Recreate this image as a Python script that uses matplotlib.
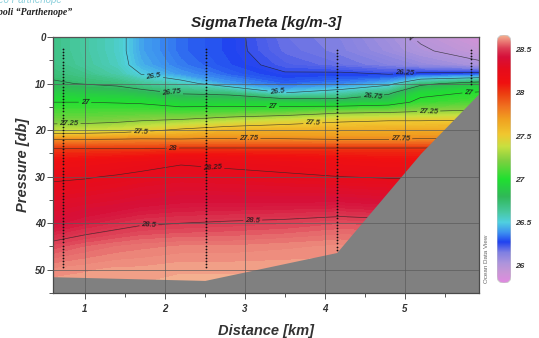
import numpy as np
import matplotlib
matplotlib.use('Agg')
import matplotlib.pyplot as plt
from matplotlib.colors import LinearSegmentedColormap
from matplotlib.patches import FancyBboxPatch
from matplotlib.ticker import MultipleLocator

plt.rcParams['font.family'] = ['Liberation Sans', 'DejaVu Sans']

# section grid: distance along the transect (km) and pressure (db)
distance = [0.6, 1.0, 1.4, 1.7, 2.2, 2.8, 3.5, 4.2, 4.8, 5.2, 5.95]
pressure = [0, 3, 6, 8, 10, 12, 14, 16, 18, 20, 22, 24, 27, 30, 35, 40, 45,
            50, 55]

# sigma-theta profiles (kg/m-3), one per distance node, surface to bottom
sigma = [
    [26.68, 26.68, 26.69, 26.72, 26.77, 26.90, 27.00, 27.10, 27.20, 27.35,
     27.75, 28.00, 28.14, 28.23, 28.32, 28.40, 28.53, 28.62, 28.66],
    [26.62, 26.62, 26.63, 26.67, 26.74, 26.88, 27.00, 27.10, 27.20, 27.37,
     27.75, 28.00, 28.16, 28.24, 28.34, 28.44, 28.56, 28.63, 28.66],
    [26.55, 26.55, 26.56, 26.60, 26.71, 26.86, 26.99, 27.10, 27.22, 27.40,
     27.76, 28.00, 28.18, 28.26, 28.36, 28.47, 28.58, 28.64, 28.66],
    [26.42, 26.42, 26.44, 26.50, 26.64, 26.82, 26.98, 27.10, 27.25, 27.45,
     27.77, 28.00, 28.20, 28.28, 28.38, 28.49, 28.59, 28.64, 28.66],
    [26.33, 26.33, 26.35, 26.40, 26.56, 26.73, 26.92, 27.08, 27.28, 27.53,
     27.76, 28.02, 28.24, 28.30, 28.40, 28.50, 28.60, 28.65, 28.66],
    [26.28, 26.28, 26.29, 26.32, 26.40, 26.70, 26.92, 27.10, 27.35, 27.60,
     27.77, 28.02, 28.22, 28.29, 28.40, 28.51, 28.60, 28.65, 28.66],
    [26.18, 26.19, 26.22, 26.26, 26.32, 26.50, 26.90, 27.12, 27.42, 27.62,
     27.76, 28.02, 28.20, 28.27, 28.40, 28.52, 28.61, 28.65, 28.66],
    [26.14, 26.15, 26.18, 26.27, 26.36, 26.58, 26.85, 27.20, 27.48, 27.63,
     27.75, 28.02, 28.17, 28.25, 28.40, 28.54, 28.62, 28.65, 28.66],
    [26.06, 26.08, 26.14, 26.25, 26.45, 26.72, 26.90, 27.22, 27.50, 27.64,
     27.75, 28.02, 28.15, 28.24, 28.38, 28.53, 28.62, 28.65, 28.66],
    [25.98, 26.02, 26.10, 26.28, 26.70, 26.95, 27.05, 27.25, 27.50, 27.65,
     27.76, 28.02, 28.15, 28.24, 28.38, 28.53, 28.62, 28.65, 28.66],
    [25.87, 25.93, 26.03, 26.30, 26.85, 27.02, 27.10, 27.28, 27.52, 27.65,
     27.76, 28.03, 28.15, 28.24, 28.38, 28.53, 28.62, 28.65, 28.66],
]

# sea floor along the section
bottom_x = [0.6, 2.5, 4.15, 5.2, 5.95]
bottom_p = [51.5, 52.3, 46.3, 25.0, 11.8]

# CTD casts: position, first and last sample depth
station_x = [0.72, 2.52, 4.15, 5.83]
station_top = [2.6, 2.6, 2.8, 2.8]
station_bottom = [50.0, 50.0, 45.7, 10.8]
sample_step = 0.67

contour_levels = [26.0, 26.25, 26.5, 26.75, 27.0, 27.25, 27.5, 27.75, 28.0,
                  28.25, 28.5]
cbar_ticks = [26, 26.5, 27, 27.5, 28, 28.5]
vmin, vmax = 25.80, 28.67

# ODV-like palette
cmap_stops = [
    (25.80, '#e08ae0'), (25.92, '#c896d6'), (26.03, '#ac94dc'),
    (26.15, '#8080e2'), (26.27, '#2042f0'), (26.38, '#3c90f0'),
    (26.50, '#50d0e0'), (26.62, '#48c8a0'), (26.80, '#30b858'),
    (27.00, '#20e030'), (27.22, '#80d040'), (27.38, '#c8e040'),
    (27.52, '#f0c830'), (27.70, '#f0a020'), (27.85, '#f07020'),
    (28.00, '#ec3c10'), (28.12, '#f01010'), (28.28, '#e60c1c'),
    (28.42, '#d6103a'), (28.52, '#dc3c54'), (28.60, '#ea7a74'),
    (28.67, '#f4b090'),
]
cmap = LinearSegmentedColormap.from_list(
    'odv', [((v - vmin) / (vmax - vmin), c) for v, c in cmap_stops])

# where the contour labels sit (km, db)
label_pos = [
    (4.98, 1.5), (5.0, 8.3), (1.85, 9.6), (3.4, 12.0), (2.08, 12.3),
    (4.6, 13.3), (1.0, 14.0), (3.35, 14.6), (5.8, 11.9), (0.8, 18.9),
    (5.3, 16.0), (1.7, 20.6), (3.85, 18.6), (3.05, 22.4), (4.95, 22.4),
    (2.1, 23.8), (2.6, 27.7), (1.8, 40.6), (3.1, 39.8),
]

W, H = 539, 338
fig = plt.figure(figsize=(W / 100, H / 100), dpi=100)
ax = fig.add_axes([53 / W, 1 - 293 / H, 426 / W, 256 / H])

Z = np.array(sigma).T
ax.contourf(distance, pressure, Z, levels=np.linspace(vmin, vmax, 160),
            cmap=cmap, vmin=vmin, vmax=vmax, antialiased=False, zorder=1)
cs = ax.contour(distance, pressure, Z, levels=contour_levels,
                colors='#262626', linewidths=0.45, alpha=0.8, zorder=1.5)
labels = ax.clabel(cs, manual=label_pos, fmt=lambda v: f'{v:g}',
                   fontsize=5.5, colors='#1a1a1a', inline=True,
                   inline_spacing=2)
for t in labels:
    t.set_fontstyle('italic')
    t.set_fontweight('bold')

ax.fill_between(bottom_x, bottom_p, 60, color='#808080', lw=0, zorder=2)

for sx, top, bot in zip(station_x, station_top, station_bottom):
    depths = np.arange(top, bot + 0.01, sample_step)
    ax.plot(np.full_like(depths, sx), depths, ls='none', marker='o',
            ms=1.3, mfc='#111111', mec='none', zorder=3)

ax.set_xlim(0.6, 5.93)
ax.set_ylim(55, 0)
ax.xaxis.set_major_locator(MultipleLocator(1))
ax.xaxis.set_minor_locator(MultipleLocator(0.5))
ax.yaxis.set_major_locator(MultipleLocator(10))
ax.yaxis.set_minor_locator(MultipleLocator(5))
ax.set_axisbelow(False)
ax.grid(True, which='major', color='#5a5a5a', lw=0.6, alpha=0.8)

tick_font = dict(fontsize=7, fontweight='bold', fontstyle='italic',
                 color='#333333')
ax.tick_params(which='both', direction='out', color='#555555', width=0.7)
ax.tick_params(which='major', length=4)
ax.tick_params(which='minor', length=3)
ax.tick_params(axis='x', pad=4)
ax.tick_params(axis='y', pad=1)
for lab in ax.get_xticklabels() + ax.get_yticklabels():
    lab.set(**tick_font)
for sp in ax.spines.values():
    sp.set_color('#4a4a4a')
    sp.set_linewidth(0.9)

label_font = dict(fontsize=10.5, fontweight='bold', fontstyle='italic',
                  color='#333333')
ax.set_xlabel('Distance [km]', **label_font)
ax.set_ylabel('Pressure [db]', **label_font)
ax.xaxis.set_label_coords(0.5, -0.12)
ax.yaxis.set_label_coords(-0.055, 0.5)
ax.set_title('SigmaTheta [kg/m-3]', fontsize=11, fontweight='bold',
             fontstyle='italic', color='#222222', pad=7)

# colour bar with rounded ends
cax = fig.add_axes([497 / W, 1 - 283 / H, 14 / W, 248 / H])
grad = np.linspace(vmin, vmax, 256).reshape(-1, 1)
im = cax.imshow(grad, cmap=cmap, vmin=vmin, vmax=vmax, origin='lower',
                extent=[0, 1, vmin, vmax], aspect='auto')
px_per_unit = 248 / (vmax - vmin)
box = FancyBboxPatch((0, vmin), 1, vmax - vmin,
                     boxstyle='round,pad=0,rounding_size=0.5',
                     mutation_aspect=14 / px_per_unit,
                     transform=cax.transData, fc='none', ec='#c8c8c8',
                     lw=0.6)
cax.add_patch(box)
im.set_clip_path(box)
cax.set_xlim(0, 1)
cax.set_ylim(vmin, vmax)
cax.set_xticks([])
cax.yaxis.tick_right()
cax.set_yticks(cbar_ticks)
cax.set_yticklabels([f'{v:g}' for v in cbar_ticks], fontsize=6,
                    fontweight='bold', fontstyle='italic', color='#333333')
cax.tick_params(axis='y', length=0, pad=3)
for sp in cax.spines.values():
    sp.set_visible(False)

fig.text(487 / W, 1 - 259 / H, 'Ocean Data View', rotation=90,
         fontsize=4.5, color='#666666', ha='center', va='center')
fig.text(72 / W, 1 - 12 / H, 'Università degli Studi di Napoli “Parthenope”',
         ha='right', va='center', family=['Liberation Serif'],
         fontstyle='italic', fontweight='bold', fontsize=7, color='#222222')
fig.text(62 / W, 1 - 0 / H, 'Centro Meteo Parthenope', ha='right',
         va='center', fontstyle='italic', fontsize=7, color='#8cd0dc')

fig.savefig('out.png', dpi=100)
